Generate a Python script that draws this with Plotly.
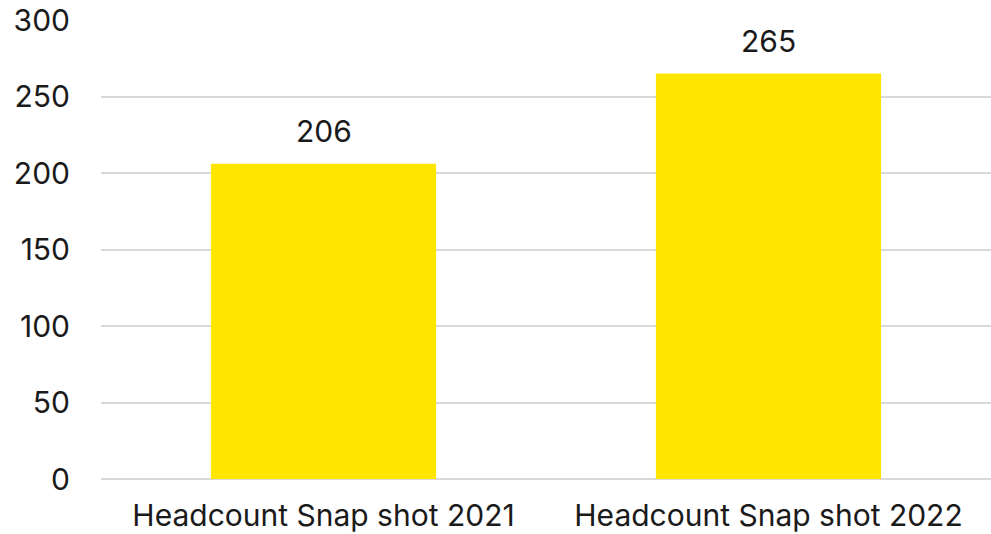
import plotly.graph_objects as go

categories = ["Headcount Snap shot 2021", "Headcount Snap shot 2022"]
headcount = [206, 265]
y_ticks = [0, 50, 100, 150, 200, 250, 300]

FONT = "Inter, Lato, sans-serif"
SIZE = 30

fig = go.Figure(
    go.Bar(
        x=categories,
        y=headcount,
        marker=dict(color="#FFE600", line=dict(width=0)),
        hoverinfo="x+y",
    )
)

for cat, val in zip(categories, headcount):
    fig.add_annotation(
        x=cat,
        y=val,
        text=str(val),
        showarrow=False,
        yanchor="bottom",
        yshift=13,
        font=dict(family=FONT, size=SIZE, color="#1a1a1a"),
    )

fig.update_layout(
    width=991,
    height=534,
    paper_bgcolor="white",
    plot_bgcolor="white",
    font=dict(family=FONT, size=SIZE, color="#1a1a1a"),
    margin=dict(l=101, r=0, t=20, b=55, autoexpand=False),
    bargap=0.494,
    showlegend=False,
    xaxis=dict(
        showgrid=False,
        showline=False,
        ticks="",
        ticklabelstandoff=16,
        tickfont=dict(size=SIZE),
    ),
    yaxis=dict(
        range=[0, 300],
        tickvals=y_ticks,
        showgrid=True,
        gridcolor="#d9d9d9",
        gridwidth=1.5,
        zeroline=True,
        zerolinecolor="#d9d9d9",
        zerolinewidth=1.5,
        showline=False,
        ticks="",
        ticklabelstandoff=30,
        ticklabeloverflow="allow",
        tickfont=dict(size=SIZE),
    ),
)

# drop the default 8px page margin so the figure fills the window exactly
fig.write_html(
    "out.html",
    config={"displayModeBar": False},
    post_script="document.body.style.margin = '0';",
)
